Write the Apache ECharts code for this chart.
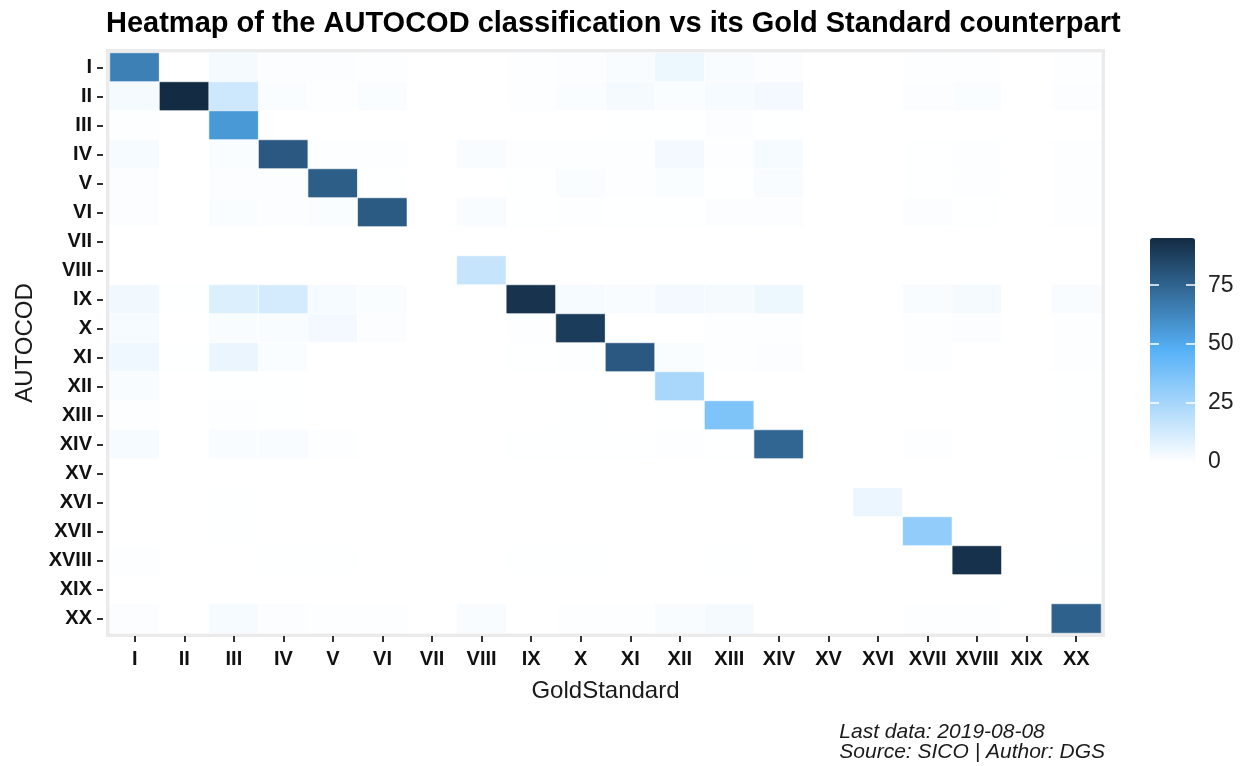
<!DOCTYPE html>
<html>
<head>
<meta charset="utf-8">
<title>AUTOCOD heatmap</title>
<script src="https://cdn.jsdelivr.net/npm/echarts@6/dist/echarts.min.js"></script>
<style>
  html, body { margin: 0; padding: 0; background: #fff; }
  #chart { width: 1245px; height: 766px; }
</style>
</head>
<body>
<div id="chart"></div>
<script>
// classes (same for both axes)
const classes = ['I', 'II', 'III', 'IV', 'V', 'VI', 'VII', 'VIII', 'IX', 'X',
  'XI', 'XII', 'XIII', 'XIV', 'XV', 'XVI', 'XVII', 'XVIII', 'XIX', 'XX']

// one row per AUTOCOD class, columns = GoldStandard I..XX
const rowI    = [65, 0, 3, 1, 1, 0.8, 0, 0, 0.5, 1, 2, 5, 2, 1, 0, 0, 0.5, 0.5, 0, 0.5]
const rowII   = [3, 95, 14, 1.5, 0.5, 1.5, 0, 0, 0.5, 1.5, 3, 1.5, 2.5, 3.5, 0, 0, 1, 1.5, 0, 1]
const rowIII  = [0.8, 0, 56, 0, 0, 0, 0, 0, 0, 0, 0.3, 0.3, 1, 0.3, 0, 0, 0, 0, 0, 0]
const rowIV   = [2.5, 0, 1.5, 79, 0.8, 0.5, 0, 2, 0.5, 0.8, 0.5, 3.5, 0.5, 2.5, 0, 0, 0.3, 0.8, 0, 0.5]
const rowV    = [1, 0, 1, 1, 77, 0.3, 0, 0, 0.3, 1.5, 0.5, 1.5, 0.3, 2, 0, 0, 0.3, 0.5, 0, 0.5]
const rowVI   = [1.2, 0, 1.5, 1.2, 1.5, 78, 0, 2, 0.3, 0.8, 0.3, 0.3, 1, 1, 0, 0, 1, 0.3, 0, 0.5]
const rowVII  = [0, 0, 0, 0, 0, 0, 0, 0, 0, 0, 0, 0, 0, 0, 0, 0, 0, 0, 0, 0]
const rowVIII = [0, 0, 0, 0, 0, 0, 0, 16, 0, 0, 0, 0, 0, 0, 0, 0, 0, 0, 0, 0]
const rowIX   = [4, 0.3, 10, 12, 2.5, 1.5, 0, 0, 92, 2.5, 2, 3.5, 3, 5, 0, 0, 2, 3, 0, 2]
const rowX    = [2.5, 0, 2, 2, 3.5, 1, 0, 0, 0.5, 89, 0, 0, 0.5, 0.5, 0, 0, 0.5, 1, 0, 0.5]
const rowXI   = [4.5, 0.3, 6, 1.5, 0, 0, 0, 0, 0.3, 0.5, 79, 1.5, 0.5, 1, 0, 0, 0.5, 0, 0, 0.5]
const rowXII  = [2, 0, 0.3, 0.3, 0, 0, 0, 0, 0, 0, 0, 24.5, 0, 0, 0, 0, 0, 0, 0, 0.2]
const rowXIII = [0.8, 0, 0.5, 0.3, 0, 0, 0, 0, 0, 0.3, 0, 0.3, 36, 0, 0, 0, 0, 0, 0, 0.3]
const rowXIV  = [2.5, 0, 2, 2, 0.5, 0, 0, 0, 0.3, 0.3, 0.3, 0.8, 0.3, 74, 0, 0, 0.5, 0, 0, 0.3]
const rowXV   = [0, 0, 0, 0, 0, 0, 0, 0, 0, 0, 0, 0, 0, 0, 0, 0, 0, 0, 0, 0]
const rowXVI  = [0, 0, 0.3, 0, 0, 0, 0, 0, 0, 0, 0, 0, 0, 0, 0, 5.6, 0, 0, 0, 0]
const rowXVII = [0, 0, 0.3, 0, 0, 0, 0, 0, 0, 0, 0, 0, 0, 0, 0, 0, 31, 0, 0, 0]
const rowXVIII = [0.8, 0, 0, 0.3, 0.3, 0, 0, 0, 0.3, 0.3, 0, 0, 0.3, 0, 0, 0, 0, 93, 0, 0.3]
const rowXIX  = [0, 0, 0, 0, 0, 0, 0, 0, 0, 0, 0, 0, 0, 0, 0, 0, 0, 0, 0, 0]
const rowXX   = [1.2, 0, 2.5, 1.2, 0.5, 0.5, 0, 2, 0, 0.5, 0.5, 2, 3, 0, 0, 0, 0.5, 0.8, 0, 76]

const rows = [rowI, rowII, rowIII, rowIV, rowV, rowVI, rowVII, rowVIII, rowIX, rowX,
  rowXI, rowXII, rowXIII, rowXIV, rowXV, rowXVI, rowXVII, rowXVIII, rowXIX, rowXX]

// colour bar ticks
const legendMax = 95
const legendTicks = [0, 25, 50, 75]

const fontName = 'Liberation Sans, Arial, sans-serif'

let cells = []
rows.forEach(function (r, y) {
  r.forEach(function (v, x) {
    cells.push([x, y, v])
  })
})

// white ticks of the colour bar (one axis per bar edge)
function barAxis(gridIndex, withLabels) {
  return {
    gridIndex: gridIndex, type: 'value', position: 'left',
    min: 0, max: legendMax, z: 10,
    axisLine: { show: false },
    splitLine: { show: false },
    axisTick: { show: true, inside: true, length: 9, lineStyle: { color: '#fff', width: 1.5 },
      customValues: legendTicks },
    axisLabel: withLabels
      ? { show: true, inside: true, fontSize: 23, color: '#222', margin: 58, align: 'left', customValues: legendTicks }
      : { show: false }
  }
}

let myChart = echarts.init(document.getElementById('chart'))
let option = {
  backgroundColor: '#ffffff',
  animation: false,
  textStyle: { fontFamily: fontName },
  title: {
    text: 'Heatmap of the AUTOCOD classification vs its Gold Standard counterpart',
    left: 106,
    top: 9,
    padding: 0,
    textStyle: { fontSize: 29, fontWeight: 'bold', color: '#000', fontFamily: fontName }
  },
  grid: [
    {
      left: 110, top: 53, width: 991, height: 580,
      outerBoundsMode: 'none',
      show: true, backgroundColor: '#ffffff',
      borderColor: '#ebebeb', borderWidth: 8
    },
    { left: 1150, top: 238, width: 45, height: 224, show: false, outerBoundsMode: 'none' },
    { left: 1186, top: 238, width: 9, height: 224, show: false, outerBoundsMode: 'none' }
  ],
  xAxis: [
    {
      type: 'category',
      data: classes,
      name: 'GoldStandard',
      nameLocation: 'middle',
      nameGap: 43,
      nameTextStyle: { fontSize: 24, color: '#1a1a1a' },
      offset: 3,
      z: 5,
      axisLine: { show: true, lineStyle: { color: 'rgba(0,0,0,0)' } },
      axisTick: { show: true, alignWithLabel: true, length: 6, lineStyle: { color: '#333', width: 2 } },
      axisLabel: { fontSize: 20, fontWeight: 'bold', color: '#111', margin: 13, interval: 0 },
      splitLine: { show: false }
    },
    { gridIndex: 1, type: 'value', show: false, min: 0, max: 1 },
    { gridIndex: 2, type: 'value', show: false, min: 0, max: 1 }
  ],
  yAxis: [
    {
      type: 'category',
      data: classes,
      inverse: true,
      name: 'AUTOCOD',
      nameLocation: 'middle',
      nameRotate: 90,
      nameGap: 66,
      nameTextStyle: { fontSize: 24, color: '#1a1a1a' },
      offset: 7,
      z: 5,
      axisLine: { show: true, lineStyle: { color: 'rgba(0,0,0,0)' } },
      axisTick: { show: true, alignWithLabel: true, length: 6, lineStyle: { color: '#333', width: 2 } },
      axisLabel: { fontSize: 20, fontWeight: 'bold', color: '#111', margin: 11, interval: 0 },
      splitLine: { show: false }
    },
    barAxis(1, true),
    barAxis(2, false)
  ],
  visualMap: {
    type: 'continuous',
    seriesIndex: 0,
    min: 0,
    max: legendMax,
    calculable: false,
    hoverLink: false,
    left: 1150,
    top: 238,
    padding: 0,
    itemWidth: 45,
    itemHeight: 224,
    text: ['', ''],
    showLabel: false,
    inRange: { color: ['#ffffff', '#56B1F7', '#132B43'] }
  },
  series: [
    {
      type: 'heatmap',
      data: cells,
      itemStyle: { borderColor: 'rgba(255,255,255,0.6)', borderWidth: 1 },
      emphasis: { disabled: true }
    }
  ],
  graphic: [
    {
      type: 'text',
      right: 140,
      top: 722,
      style: {
        text: 'Last data: 2019-08-08\nSource: SICO | Author: DGS',
        font: 'italic 21px ' + fontName,
        fill: '#1a1a1a',
        align: 'right',
        lineHeight: 20
      }
    }
  ]
}

myChart.clear()
myChart.setOption(option)
window.addEventListener('resize', function () {
  myChart.resize()
})
</script>
</body>
</html>
